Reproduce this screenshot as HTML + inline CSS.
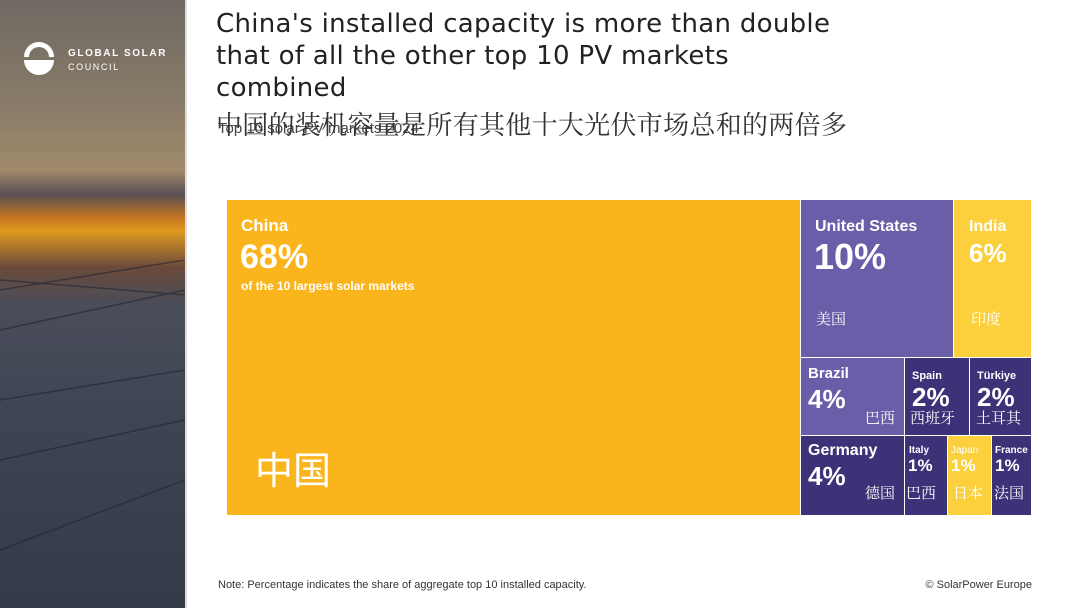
<!DOCTYPE html>
<html><head><meta charset="utf-8"><style>
body{margin:0;width:1080px;height:608px;background:#fff;position:relative;overflow:hidden;font-family:"Liberation Sans","Noto Sans CJK SC",sans-serif;}
.a{position:absolute;}
.w{color:#fff;}
.b{font-weight:bold;}
.cn{font-family:"Noto Serif CJK SC","Noto Sans CJK SC",serif;}
.p{font-weight:bold;}
</style></head><body>
<div class="a" style="left:0;top:0;width:185px;height:608px;background:linear-gradient(180deg,#6f6a63 0%,#8a7c68 18%,#a08a6a 28%,#5a4f55 32%,#c8781e 36%,#e09a20 38%,#6a4a3a 44%,#4a4d5a 50%,#3d4452 70%,#353a48 100%);"></div>
<svg class="a" style="left:0;top:260px" width="185" height="348"><g stroke="#1e2230" stroke-width="1.5" fill="none" opacity=".55"><line x1="0" y1="30" x2="185" y2="0"/><line x1="0" y1="70" x2="185" y2="30"/><line x1="0" y1="140" x2="185" y2="110"/><line x1="0" y1="200" x2="185" y2="160"/><line x1="0" y1="290" x2="185" y2="220"/><line x1="0" y1="20" x2="185" y2="35"/></g></svg>
<div class="a" style="left:185px;top:0;width:2px;height:608px;background:#ddd"></div>
<svg class="a" style="left:21px;top:41px" width="36" height="36"><path d="M3,16 A15,15 0 0 1 33,16 L28,16 A10,10 0 0 0 8,16 Z" fill="#fff"/><path d="M3,19 L33,19 A15,15 0 0 1 3,19 Z" fill="#fff"/></svg>
<div class="a w b" style="left:68px;top:48px;font-size:10px;letter-spacing:1.6px">GLOBAL SOLAR</div>
<div class="a w" style="left:68px;top:62px;font-size:9px;letter-spacing:1.6px">COUNCIL</div>
<div class="a" style="left:216px;top:8px;font-size:26px;line-height:32px;color:#222;font-family:'DejaVu Sans',sans-serif;letter-spacing:0.3px">China's installed capacity is more than double<br>that of all the other top 10 PV markets<br>combined</div>
<div class="a" style="left:218px;top:120px;font-size:15px;color:#444">Top 10 solar PV markets 2024</div>
<div class="a cn" style="left:216px;top:105px;font-size:26px;color:#333;letter-spacing:0.3px">中国的装机容量是所有其他十大光伏市场总和的两倍多</div>

<div class="a" style="left:227px;top:200px;width:573px;height:315px;background:#fbb51c"></div>
<div class="a w b" style="left:241px;top:216px;font-size:17px">China</div>
<div class="a w p" style="left:240px;top:238px;font-size:34px">68%</div>
<div class="a w b" style="left:241px;top:279px;font-size:12px">of the 10 largest solar markets</div>
<div class="a w" style="left:255px;top:440px;font-size:38px;font-family:'Noto Sans CJK SC',sans-serif">中国</div>

<div class="a" style="left:801px;top:200px;width:152px;height:157px;background:#6a5ea9"></div>
<div class="a w b" style="left:815px;top:218px;font-size:16px">United States</div>
<div class="a w p" style="left:814px;top:236px;font-size:36px">10%</div>
<div class="a w cn" style="left:816px;top:308px;font-size:15px">美国</div>

<div class="a" style="left:954px;top:200px;width:77px;height:157px;background:#fcd03c"></div>
<div class="a w b" style="left:969px;top:218px;font-size:16px">India</div>
<div class="a w p" style="left:969px;top:238px;font-size:26px">6%</div>
<div class="a w cn" style="left:971px;top:308px;font-size:15px">印度</div>

<div class="a" style="left:801px;top:358px;width:103px;height:77px;background:#6a5ea9"></div>
<div class="a w b" style="left:808px;top:365px;font-size:15px">Brazil</div>
<div class="a w p" style="left:808px;top:384px;font-size:26px">4%</div>
<div class="a w cn" style="left:865px;top:407px;font-size:15px">巴西</div>

<div class="a" style="left:905px;top:358px;width:64px;height:77px;background:#3c3277"></div>
<div class="a w b" style="left:912px;top:370px;font-size:11px">Spain</div>
<div class="a w p" style="left:912px;top:382px;font-size:26px">2%</div>
<div class="a w cn" style="left:910px;top:407px;font-size:15px">西班牙</div>

<div class="a" style="left:970px;top:358px;width:61px;height:77px;background:#3c3277"></div>
<div class="a w b" style="left:977px;top:370px;font-size:11px">Türkiye</div>
<div class="a w p" style="left:977px;top:382px;font-size:26px">2%</div>
<div class="a w cn" style="left:976px;top:407px;font-size:15px">土耳其</div>

<div class="a" style="left:801px;top:436px;width:103px;height:79px;background:#3c3277"></div>
<div class="a w b" style="left:808px;top:442px;font-size:16px">Germany</div>
<div class="a w p" style="left:808px;top:461px;font-size:26px">4%</div>
<div class="a w cn" style="left:865px;top:482px;font-size:15px">德国</div>

<div class="a" style="left:905px;top:436px;width:42px;height:79px;background:#3c3277"></div>
<div class="a w b" style="left:909px;top:445px;font-size:10px">Italy</div>
<div class="a w p" style="left:908px;top:456px;font-size:17px">1%</div>
<div class="a w cn" style="left:906px;top:482px;font-size:15px">巴西</div>

<div class="a" style="left:948px;top:436px;width:43px;height:79px;background:#fcd03c"></div>
<div class="a w" style="left:951px;top:445px;font-size:10px">Japan</div>
<div class="a w p" style="left:951px;top:456px;font-size:17px">1%</div>
<div class="a w cn" style="left:953px;top:482px;font-size:15px">日本</div>

<div class="a" style="left:992px;top:436px;width:39px;height:79px;background:#3c3277"></div>
<div class="a w b" style="left:995px;top:445px;font-size:10px">France</div>
<div class="a w p" style="left:995px;top:456px;font-size:17px">1%</div>
<div class="a w cn" style="left:994px;top:482px;font-size:15px">法国</div>

<div class="a" style="left:218px;top:579px;font-size:11px;color:#333">Note: Percentage indicates the share of aggregate top 10 installed capacity.</div>
<div class="a" style="right:48px;top:579px;font-size:11px;color:#333">© SolarPower Europe</div>
</body></html>
